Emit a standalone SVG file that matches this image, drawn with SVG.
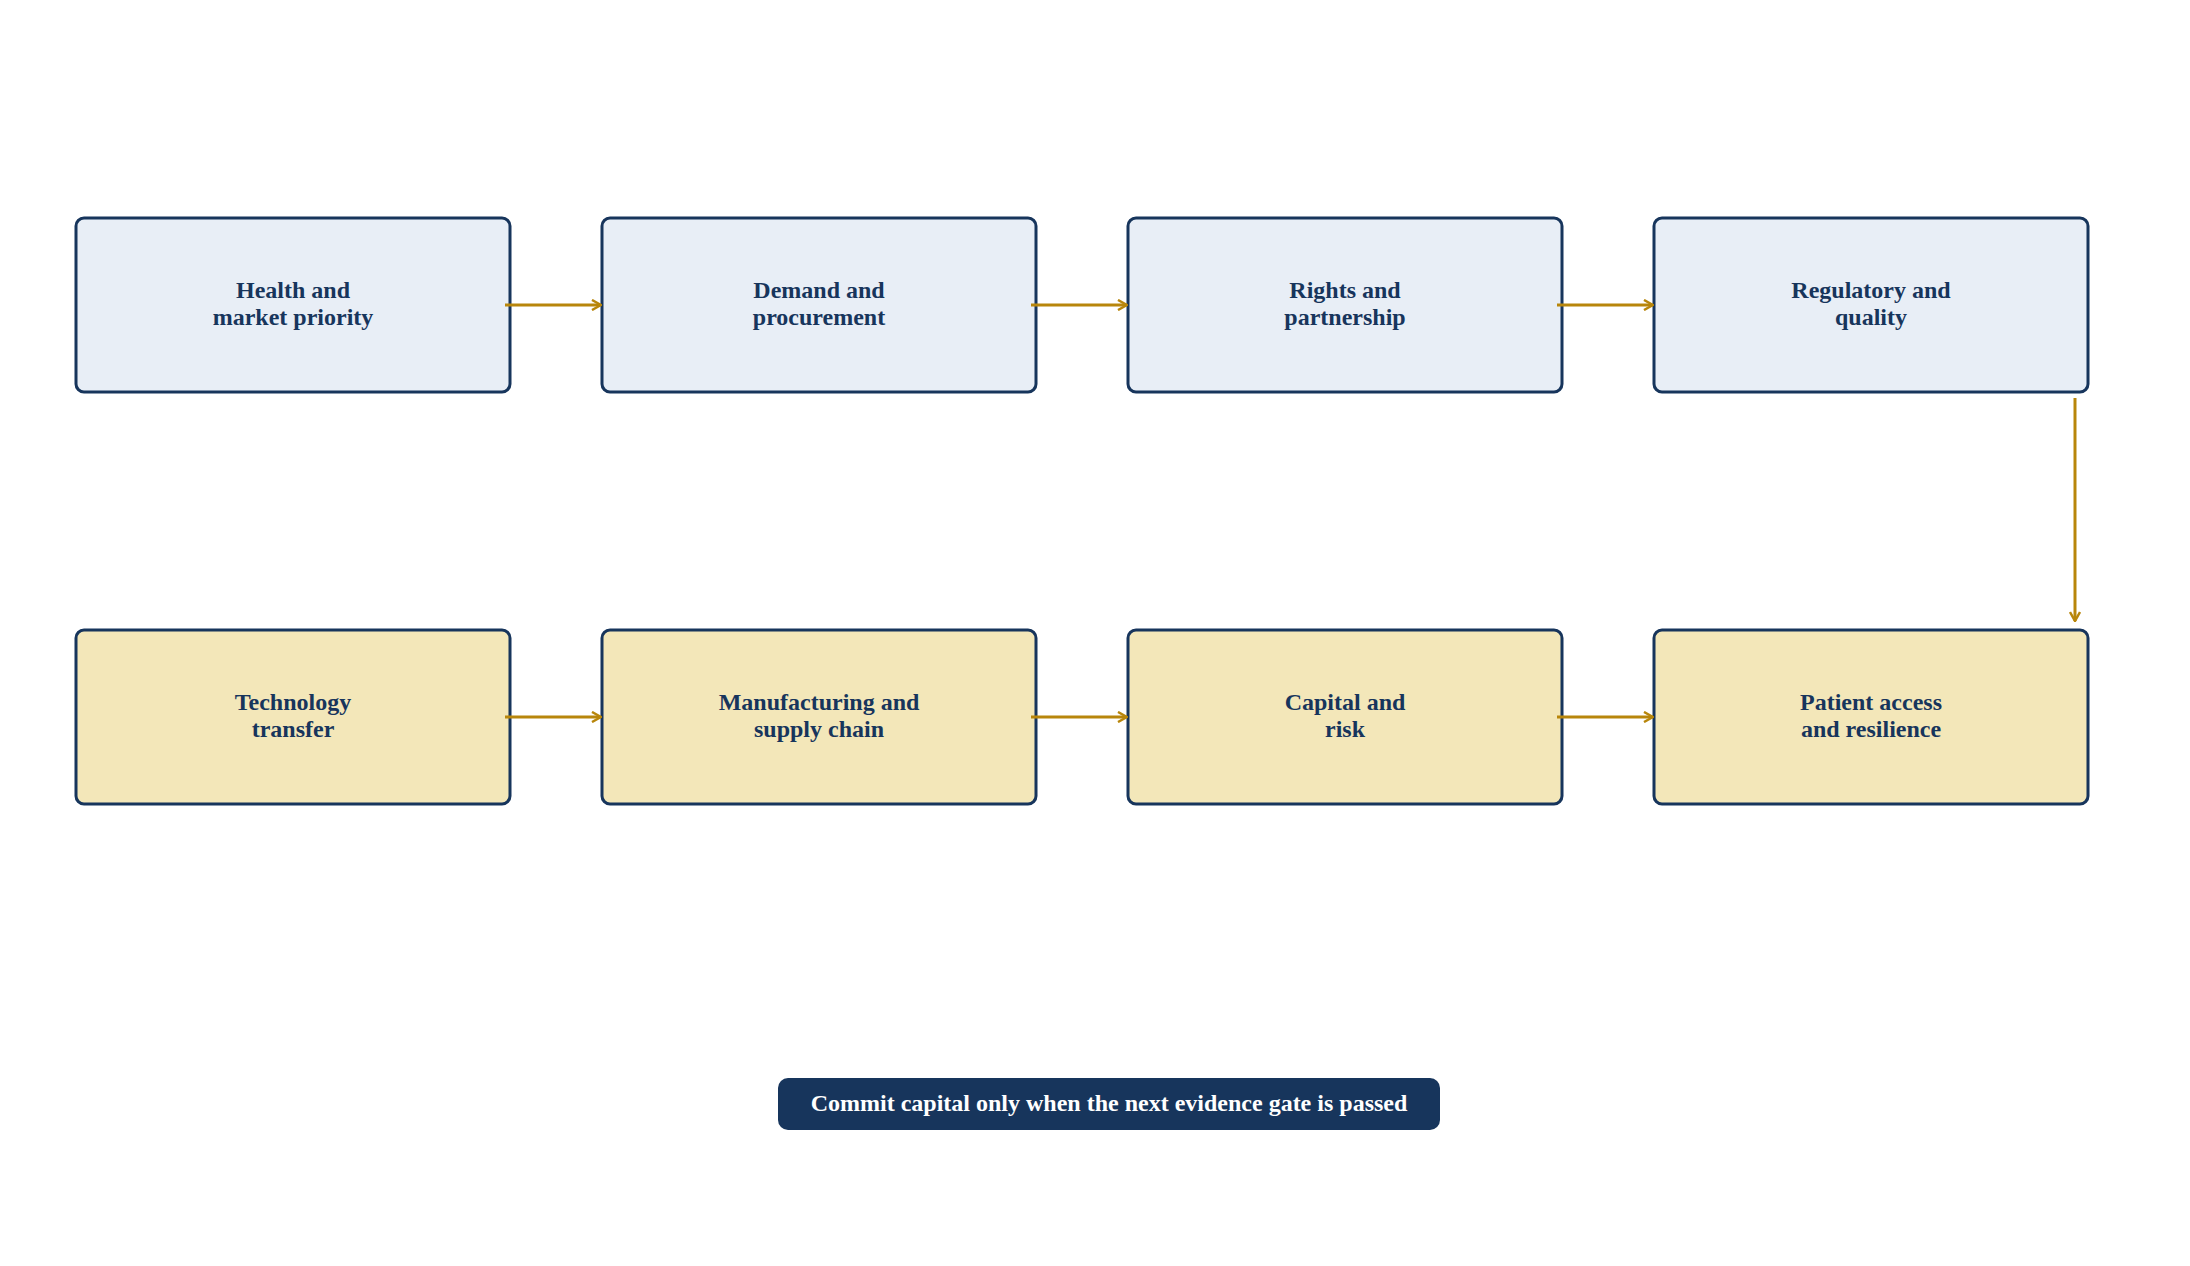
<svg xmlns="http://www.w3.org/2000/svg" width="2190" height="1266" viewBox="0 0 2190 1266">
<style>
.n rect{stroke:#17355c;stroke-width:3}
.a rect{fill:#e8eef6}
.b rect{fill:#f3e7b9}
text{font-family:"Liberation Serif",serif;font-weight:bold;font-size:24px;fill:#17355c;text-anchor:middle}
.e path{stroke:#b8860b;stroke-width:3;fill:none;marker-end:url(#ah)}
</style>
<defs><marker id="ah" viewBox="0 0 12 12" refX="11" refY="6" markerWidth="12" markerHeight="12" markerUnits="userSpaceOnUse" orient="auto"><path d="M2,1 L11,6 L2,11" fill="none" stroke="#b8860b" stroke-width="2.5"/></marker></defs>
<rect width="2190" height="1266" fill="#fff"/>
<g id="n1" class="n a"><rect x="76" y="218" width="434" height="174" rx="8"/><text x="293" y="298">Health and</text><text x="293" y="325">market priority</text></g>
<g id="n2" class="n a"><rect x="602" y="218" width="434" height="174" rx="8"/><text x="819" y="298">Demand and</text><text x="819" y="325">procurement</text></g>
<g id="n3" class="n a"><rect x="1128" y="218" width="434" height="174" rx="8"/><text x="1345" y="298">Rights and</text><text x="1345" y="325">partnership</text></g>
<g id="n4" class="n a"><rect x="1654" y="218" width="434" height="174" rx="8"/><text x="1871" y="298">Regulatory and</text><text x="1871" y="325">quality</text></g>
<g id="n5" class="n b"><rect x="76" y="630" width="434" height="174" rx="8"/><text x="293" y="710">Technology</text><text x="293" y="737">transfer</text></g>
<g id="n6" class="n b"><rect x="602" y="630" width="434" height="174" rx="8"/><text x="819" y="710">Manufacturing and</text><text x="819" y="737">supply chain</text></g>
<g id="n7" class="n b"><rect x="1128" y="630" width="434" height="174" rx="8"/><text x="1345" y="710">Capital and</text><text x="1345" y="737">risk</text></g>
<g id="n8" class="n b"><rect x="1654" y="630" width="434" height="174" rx="8"/><text x="1871" y="710">Patient access</text><text x="1871" y="737">and resilience</text></g>
<g id="edges" class="e">
<path d="M505,305 H601"/><path d="M1031,305 H1127"/><path d="M1557,305 H1653"/>
<path d="M2075,398 V621"/>
<path d="M505,717 H601"/><path d="M1031,717 H1127"/><path d="M1557,717 H1653"/>
</g>
<g id="note"><rect x="778" y="1078" width="662" height="52" rx="10" fill="#17355c"/><text x="1109" y="1111" style="fill:#fff">Commit capital only when the next evidence gate is passed</text></g>
</svg>
